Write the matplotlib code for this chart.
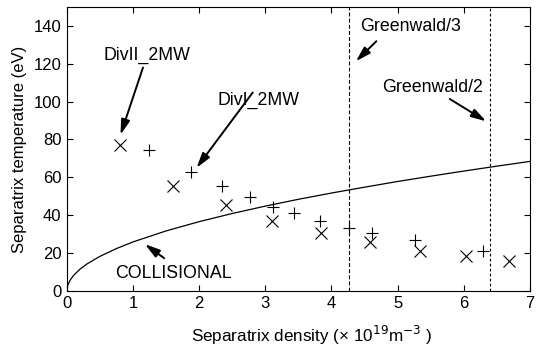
import matplotlib
matplotlib.use("Agg")
import matplotlib.pyplot as plt

plt.rcParams['font.family'] = ['Liberation Sans', 'DejaVu Sans']

# DivII_2MW shots (x markers)
div2_density = [0.80, 1.61, 2.40, 3.10, 3.85, 4.58, 5.34, 6.03, 6.69]
div2_temp = [76.9, 55.6, 45.5, 37.2, 30.5, 25.6, 21.3, 18.2, 16.0]

# DivI_2MW shots (+ markers)
div1_density = [1.24, 1.87, 2.35, 2.77, 3.12, 3.44, 3.83, 4.27, 4.62, 5.26, 6.30]
div1_temp = [74.2, 62.6, 55.2, 49.4, 44.3, 41.1, 37.0, 33.2, 30.5, 27.0, 21.3]

# collisional boundary
coll_density = [0.0, 0.01, 0.02, 0.05, 0.1, 0.2, 0.3, 0.5, 0.75, 1.0, 1.5, 2.0, 2.5,
                3.0, 3.5, 4.0, 4.5, 5.0, 5.5, 6.0, 6.5, 7.0]
coll_temp = [0.0, 2.6, 3.7, 5.8, 8.2, 11.6, 14.2, 18.3, 22.4, 25.9, 31.7, 36.6, 40.9,
             44.8, 48.4, 51.7, 54.8, 57.8, 60.6, 63.3, 65.9, 68.4]

greenwald_3 = 4.27
greenwald_2 = 6.40

x_ticks = [0, 1, 2, 3, 4, 5, 6, 7]
y_ticks = [0, 20, 40, 60, 80, 100, 120, 140]

fig = plt.figure(figsize=(5.4, 3.48), dpi=100)
ax = fig.add_axes([0.124, 0.164, 0.857, 0.816])

ax.plot(coll_density, coll_temp, color='black', lw=0.9)
ax.plot(div2_density, div2_temp, 'x', color='black', ms=8, mew=0.8)
ax.plot(div1_density, div1_temp, '+', color='black', ms=8, mew=0.8)
ax.axvline(greenwald_3, color='black', lw=0.8, ls=(0, (3.5, 2)))
ax.axvline(greenwald_2, color='black', lw=0.8, ls=(0, (2.5, 2)))

ax.set_xlim(0, 7)
ax.set_ylim(0, 150)
ax.set_xticks(x_ticks)
ax.set_yticks(y_ticks)
ax.tick_params(direction='in', top=True, right=True, length=4, labelsize=12, pad=4)

ax.set_xlabel(r'Separatrix density (× 10$^{19}$m$^{-3}$ )', fontsize=12.3, labelpad=9, x=0.528)
ax.set_ylabel('Separatrix temperature (eV)', fontsize=12, labelpad=5)

arrow = dict(arrowstyle='-|>,head_length=0.75,head_width=0.22', color='black', lw=1.4,
             mutation_scale=12, shrinkA=0, shrinkB=0)
fs = 12.8
ax.annotate('', xy=(0.81, 82.5), xytext=(1.15, 118), arrowprops=arrow)
ax.text(1.21, 124.3, 'DivII_2MW', fontsize=fs, ha='center', va='center')
ax.annotate('', xy=(1.96, 65), xytext=(2.81, 104.8), arrowprops=arrow)
ax.text(2.90, 100.9, 'DivI_2MW', fontsize=fs, ha='center', va='center')
ax.annotate('', xy=(4.37, 121.3), xytext=(4.68, 131.9), arrowprops=arrow)
ax.text(5.20, 139.6, 'Greenwald/3', fontsize=fs, ha='center', va='center')
ax.annotate('', xy=(6.34, 89.6), xytext=(5.79, 101.4), arrowprops=arrow)
ax.text(5.53, 107.6, 'Greenwald/2', fontsize=fs, ha='center', va='center')
ax.annotate('', xy=(1.18, 24.7), xytext=(1.47, 17.3), arrowprops=arrow)
ax.text(1.615, 9, 'COLLISIONAL', fontsize=fs, ha='center', va='center')

fig.savefig('out.png', dpi=100)
